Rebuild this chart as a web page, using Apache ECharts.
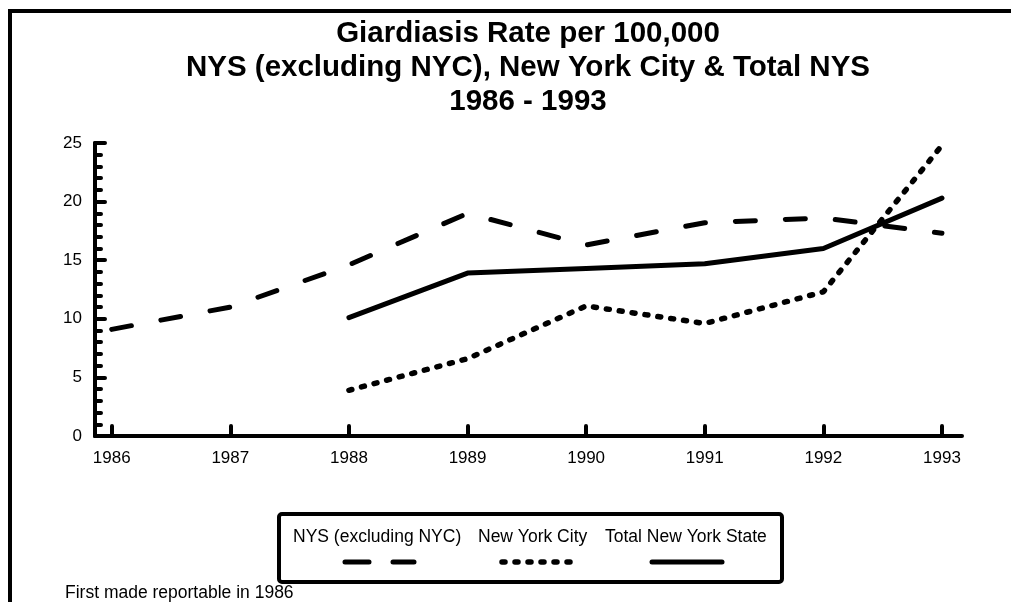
<!DOCTYPE html>
<html>
<head>
<meta charset="utf-8">
<script src="https://cdn.jsdelivr.net/npm/echarts@6/dist/echarts.min.js"></script>
<style>
  html, body { margin: 0; padding: 0; background: #fff; }
  #chart { width: 1011px; height: 602px; }
</style>
</head>
<body>
<div id="chart"></div>
<script>
// values
var years = [1986, 1987, 1988, 1989, 1990, 1991, 1992, 1993];
var nysExclYears = [1986, 1987, 1988, 1989, 1990, 1991, 1992, 1993];
var nysExcl = [9.1, 11.0, 14.6, 19.0, 16.3, 18.2, 18.6, 17.3];
var nycYears = [1988, 1989, 1990, 1991, 1992, 1993];
var nyc = [3.9, 6.6, 11.1, 9.6, 12.3, 24.8];
var totalYears = [1988, 1989, 1990, 1991, 1992, 1993];
var total = [10.1, 13.9, 14.3, 14.7, 16.0, 20.3];
var yTicks = [0, 5, 10, 15, 20, 25];

var seriesNames = ['NYS (excluding NYC)', 'New York City', 'Total New York State'];
var titleLines = ['Giardiasis Rate per 100,000',
                  'NYS (excluding NYC), New York City & Total NYS',
                  '1986 - 1993'];
var footnote = 'First made reportable in 1986';

function pairs(xs, ys) {
    var out = [];
    for (var i = 0; i < xs.length; i++) {
        out.push([xs[i], ys[i]]);
    }
    return out;
}

var FONT = 'Liberation Sans, Arial, sans-serif';
var chart = echarts.init(document.getElementById('chart'), null, { renderer: 'canvas' });

function lineStyle(dash, w) {
    return { color: '#000', width: w || 5, type: dash, cap: 'round', join: 'round' };
}

var option = {
    backgroundColor: '#fff',
    animation: false,
    title: {
        text: titleLines.join('\n'),
        left: 528,
        top: 17,
        padding: 0,
        textAlign: 'center',
        textStyle: { fontFamily: FONT, fontSize: 29.5, fontWeight: 'bold', color: '#000', lineHeight: 34 }
    },
    grid: { left: 95, right: 49, top: 143, bottom: 166, containLabel: false },
    xAxis: {
        type: 'value',
        min: 1985.859,
        max: 1993.169,
        splitLine: { show: false },
        axisLine: { lineStyle: { color: '#000', width: 4, cap: 'round' } },
        axisTick: {
            inside: true, length: 10, customValues: years,
            lineStyle: { color: '#000', width: 4, cap: 'round' }
        },
        axisLabel: {
            customValues: years, margin: 14, color: '#000',
            fontFamily: FONT, fontSize: 17,
            formatter: function (v) { return String(v); }
        }
    },
    yAxis: {
        type: 'value',
        min: 0,
        max: 25,
        interval: 5,
        splitLine: { show: false },
        axisLine: { show: true, lineStyle: { color: '#000', width: 4, cap: 'round' } },
        axisTick: {
            show: true, inside: true, length: 10,
            lineStyle: { color: '#000', width: 4, cap: 'round' }
        },
        minorTick: {
            show: true, splitNumber: 5, length: 6,
            lineStyle: { color: '#000', width: 4, cap: 'round' }
        },
        axisLabel: {
            customValues: yTicks, margin: 13, color: '#000',
            fontFamily: FONT, fontSize: 17
        }
    },
    series: [
        {
            name: seriesNames[0], type: 'line', showSymbol: false,
            data: pairs(nysExclYears, nysExcl),
            lineStyle: lineStyle([20, 30])
        },
        {
            name: seriesNames[1], type: 'line', showSymbol: false,
            data: pairs(nycYears, nyc),
            lineStyle: lineStyle([3, 10], 5.5)
        },
        {
            name: seriesNames[2], type: 'line', showSymbol: false,
            data: pairs(totalYears, total),
            lineStyle: lineStyle('solid')
        }
    ],
    graphic: [
        // outer frame, runs off the right and bottom edge
        { type: 'rect', silent: true, shape: { x: 10, y: 11, width: 1100, height: 700 },
          style: { fill: null, stroke: '#000', lineWidth: 4 } },
        // legend box
        { type: 'rect', shape: { x: 279, y: 514, width: 503, height: 68, r: 3 },
          style: { fill: '#fff', stroke: '#000', lineWidth: 4 } },
        { type: 'text', x: 293, y: 537, style: { text: seriesNames[0], fill: '#000', font: '17.5px ' + FONT, textVerticalAlign: 'middle' } },
        { type: 'text', x: 478, y: 537, style: { text: seriesNames[1], fill: '#000', font: '17.5px ' + FONT, textVerticalAlign: 'middle' } },
        { type: 'text', x: 605, y: 537, style: { text: seriesNames[2], fill: '#000', font: '17.5px ' + FONT, textVerticalAlign: 'middle' } },
        { type: 'line', shape: { x1: 345, y1: 562, x2: 414, y2: 562 },
          style: { stroke: '#000', lineWidth: 5, lineCap: 'round', lineDash: [24, 24] } },
        { type: 'line', shape: { x1: 502, y1: 562, x2: 571, y2: 562 },
          style: { stroke: '#000', lineWidth: 5.5, lineCap: 'round', lineDash: [3, 10] } },
        { type: 'line', shape: { x1: 652, y1: 562, x2: 722, y2: 562 },
          style: { stroke: '#000', lineWidth: 5, lineCap: 'round' } },
        { type: 'text', x: 65, y: 593, style: { text: footnote, fill: '#000', font: '17.5px ' + FONT, textVerticalAlign: 'middle' } }
    ]
};

chart.setOption(option);
</script>
</body>
</html>
